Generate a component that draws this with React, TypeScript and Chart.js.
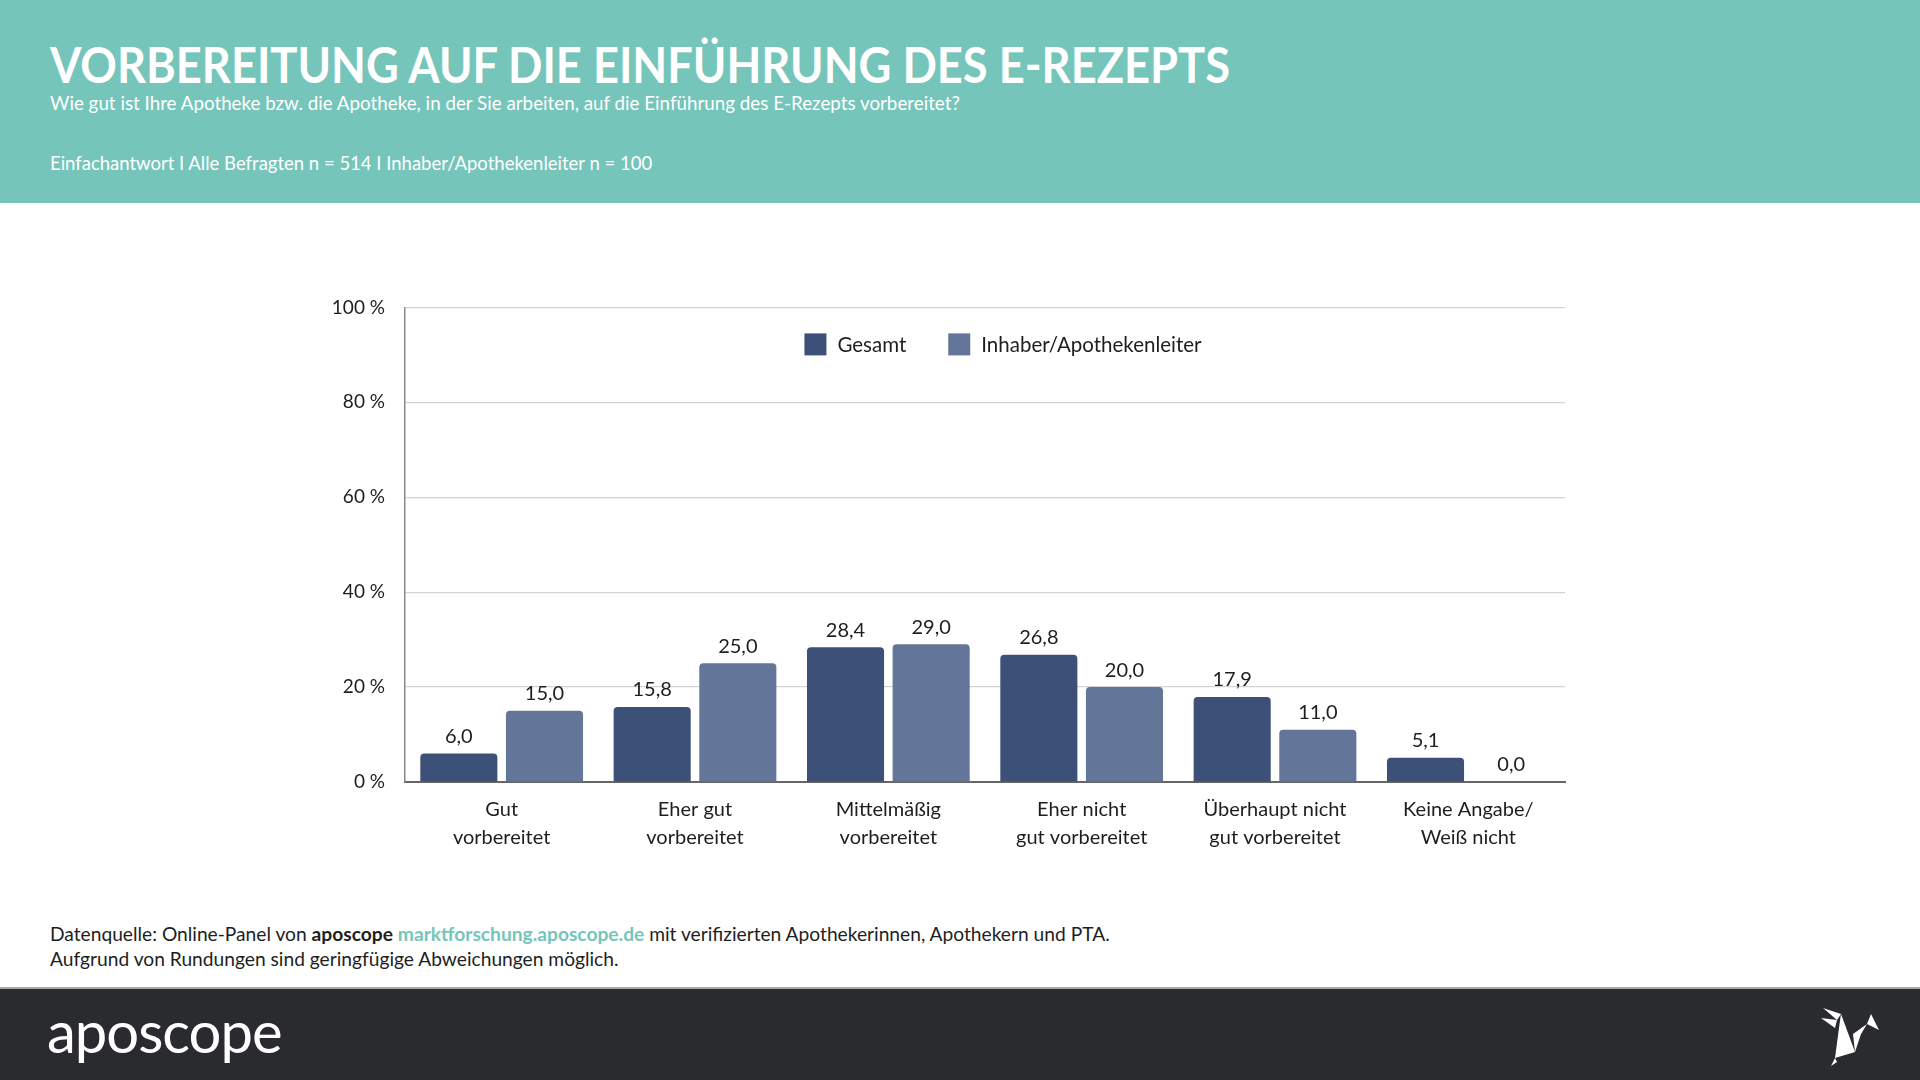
import React, { useEffect, useRef } from "react";
import { Chart, registerables } from "chart.js";

Chart.register(...registerables);

const categories: string[][] = [
  ["Gut", "vorbereitet"],
  ["Eher gut", "vorbereitet"],
  ["Mittelmäßig", "vorbereitet"],
  ["Eher nicht", "gut vorbereitet"],
  ["Überhaupt nicht", "gut vorbereitet"],
  ["Keine Angabe/", "Weiß nicht"],
];
const gesamt = [6.0, 15.8, 28.4, 26.8, 17.9, 5.1];
const inhaber = [15.0, 25.0, 29.0, 20.0, 11.0, 0.0];
const seriesLabels = ["Gesamt", "Inhaber/Apothekenleiter"];
const yTicks = [0, 20, 40, 60, 80, 100];

const FONT = "Lato, 'Noto Sans', sans-serif";
const TEAL = "#76C5BB";
const C1 = "#3D5178";
const C2 = "#637598";

const valueLabels = {
  id: "valueLabels",
  afterDatasetsDraw(chart: any) {
    const ctx = chart.ctx;
    ctx.save();
    ctx.font = `20px ${FONT}`;
    ctx.fillStyle = "#1e1e1e";
    ctx.textAlign = "center";
    ctx.textBaseline = "bottom";
    chart.data.datasets.forEach((ds: any, i: number) => {
      const meta = chart.getDatasetMeta(i);
      meta.data.forEach((bar: any, j: number) => {
        const v = ds.data[j] as number;
        ctx.fillText(v.toFixed(1).replace(".", ","), bar.x, bar.y - 7);
      });
    });
    ctx.restore();
  },
};

const innerLegend = {
  id: "innerLegend",
  afterDraw(chart: any) {
    const ctx = chart.ctx;
    const area = chart.chartArea;
    const box = 22;
    const textGap = 11;
    const itemGap = 42;
    ctx.save();
    ctx.font = `20.5px ${FONT}`;
    const items = chart.data.datasets.map((ds: any) => ({
      label: ds.label as string,
      color: ds.backgroundColor as string,
      w: box + textGap + ctx.measureText(ds.label).width,
    }));
    const total = items.reduce((s: number, it: any) => s + it.w, 0) + itemGap * (items.length - 1);
    let x = (area.left + area.right) / 2 + 18 - total / 2;
    const cy = area.top + 37;
    ctx.textBaseline = "middle";
    ctx.textAlign = "left";
    items.forEach((it: any) => {
      ctx.fillStyle = it.color;
      ctx.fillRect(x, cy - box / 2, box, box);
      ctx.fillStyle = "#1e1e1e";
      ctx.fillText(it.label, x + box + textGap, cy + 1);
      x += it.w + itemGap;
    });
    ctx.restore();
  },
};

function BarChart() {
  const ref = useRef<HTMLCanvasElement>(null);
  useEffect(() => {
    if (!ref.current) return;
    const chart = new Chart(ref.current, {
      type: "bar",
      data: {
        labels: categories,
        datasets: [
          { label: seriesLabels[0], data: gesamt, backgroundColor: C1, borderRadius: 4, borderSkipped: "bottom" },
          { label: seriesLabels[1], data: inhaber, backgroundColor: C2, borderRadius: 4, borderSkipped: "bottom" },
        ],
      },
      options: {
        responsive: false,
        animation: false,
        devicePixelRatio: 1,
        layout: { padding: { top: 23, right: 35, left: 0, bottom: 0 } },
        datasets: { bar: { categoryPercentage: 0.886, barPercentage: 0.9 } },
        plugins: {
          tooltip: { enabled: false },
          legend: { display: false },
        },
        scales: {
          x: {
            grid: { display: false, drawTicks: false },
            border: { display: true, color: "#666", width: 2 },
            ticks: { color: "#1e1e1e", font: { family: FONT, size: 20, lineHeight: 1.4 }, padding: 14, maxRotation: 0 },
            afterFit(scale: any) {
              scale.height = 88;
            },
          },
          y: {
            min: 0,
            max: 100,
            afterBuildTicks(scale: any) {
              scale.ticks = yTicks.map((v) => ({ value: v }));
            },
            grid: { color: "#D3D3D3", lineWidth: 1.2, drawTicks: false },
            border: { display: true, color: "#888", width: 1.5 },
            ticks: {
              color: "#1e1e1e",
              font: { family: FONT, size: 19 },
              padding: 20,
              callback: (v: any) => `${v} %`,
            },
            afterFit(scale: any) {
              scale.width = 105;
            },
          },
        },
      },
      plugins: [valueLabels, innerLegend],
    });
    return () => chart.destroy();
  }, []);
  return <canvas ref={ref} width={1300} height={594} style={{ position: "absolute", left: 300, top: 276 }} />;
}

export default function App() {
  useEffect(() => {
    document.body.style.margin = "0";
  }, []);
  return (
    <div style={{ position: "fixed", left: 0, top: 0, width: 1920, height: 1080, background: "#fff", overflow: "hidden", fontFamily: FONT }}>
      <div style={{ position: "absolute", left: 0, top: 0, width: 1920, height: 203, background: TEAL }} />
      <div style={{ position: "absolute", left: 50, top: 34, color: "#fff", fontSize: 50, fontWeight: 700, whiteSpace: "nowrap", lineHeight: "60px", transform: "scaleX(0.905)", transformOrigin: "left top" }}>
        VORBEREITUNG AUF DIE EINFÜHRUNG DES E-REZEPTS
      </div>
      <div style={{ position: "absolute", left: 50, top: 91, color: "#fff", fontSize: 18.8, whiteSpace: "nowrap", lineHeight: "24px" }}>
        Wie gut ist Ihre Apotheke bzw. die Apotheke, in der Sie arbeiten, auf die Einführung des E-Rezepts vorbereitet?
      </div>
      <div style={{ position: "absolute", left: 50, top: 151, color: "#fff", fontSize: 18.5, whiteSpace: "nowrap", lineHeight: "24px" }}>
        Einfachantwort I Alle Befragten n = 514 I Inhaber/Apothekenleiter n = 100
      </div>
      <BarChart />
      <div style={{ position: "absolute", left: 50, top: 921, color: "#1e1e1e", fontSize: 19.2, whiteSpace: "nowrap", lineHeight: "25px" }}>
        Datenquelle: Online-Panel von <b>aposcope</b> <b style={{ color: TEAL }}>marktforschung.aposcope.de</b> mit verifizierten Apothekerinnen, Apothekern und PTA.
        <br />
        Aufgrund von Rundungen sind geringfügige Abweichungen möglich.
      </div>
      <div style={{ position: "absolute", left: 0, top: 987, width: 1920, height: 93, background: "#2A2B2F", borderTop: "2px solid #A9A9A9" }} />
      <div style={{ position: "absolute", left: 47, top: 998, color: "#fff", fontSize: 58, whiteSpace: "nowrap", lineHeight: "66px", letterSpacing: -1 }}>
        aposcope
      </div>
      <svg style={{ position: "absolute", left: 1815, top: 1000 }} width="80" height="70" viewBox="0 0 80 70">
        <polygon points="8,8 26,14 22,20" fill="#fff" />
        <polygon points="6,18 22,20 20,28" fill="#fff" />
        <polygon points="26,14 40,52 20,58 24,28" fill="#fff" />
        <polygon points="40,52 46,34 52,24 38,34" fill="#fff" />
        <polygon points="52,24 64,30 56,14" fill="#fff" />
        <polygon points="20,58 16,66 22,62" fill="#fff" />
      </svg>
    </div>
  );
}
